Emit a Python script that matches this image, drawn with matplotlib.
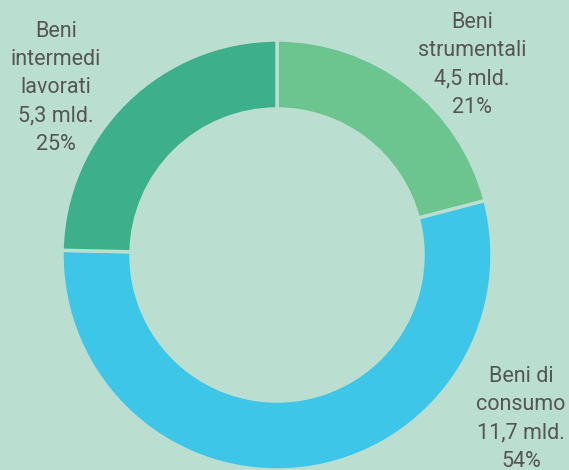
import matplotlib
matplotlib.use("Agg")
import matplotlib.pyplot as plt

categories = ["Beni\nstrumentali", "Beni di\nconsumo", "Beni\nintermedi\nlavorati"]
values = [4.5, 11.7, 5.3]
value_labels = ["4,5 mld.", "11,7 mld.", "5,3 mld."]
pct_labels = ["21%", "54%", "25%"]
colors = ["#6cc48f", "#3ec6e8", "#3db08b"]
bg = "#badfd0"

W, H = 569, 470
fig = plt.figure(figsize=(W / 100, H / 100), dpi=100, facecolor=bg)
ax = fig.add_axes([0, 0, 1, 1])
ax.set_facecolor(bg)

cx, cy, R = 277, H - 255, 215
ax.pie(values, colors=colors, startangle=90, counterclock=False,
       center=(cx, cy), radius=R, frame=True,
       wedgeprops=dict(width=69, edgecolor=bg, linewidth=2.5))
ax.set_xlim(0, W)
ax.set_ylim(0, H)
ax.set_aspect("equal")
ax.axis("off")

positions = [(472, H - 12), (521, H - 366), (56, H - 21)]
for cat, vl, pl, (x, y) in zip(categories, value_labels, pct_labels, positions):
    ax.text(x, y, f"{cat}\n{vl}\n{pl}", ha="center", va="top",
            fontsize=15.5, color="#555555", family="Roboto", linespacing=1.45)

fig.savefig("out.png", dpi=100, facecolor=bg)
